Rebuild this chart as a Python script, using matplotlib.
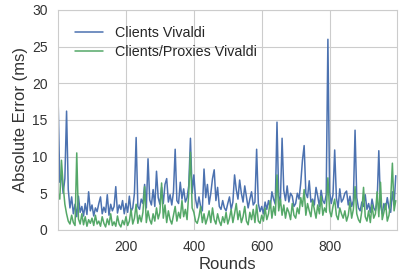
# dependencies ------------------>
import matplotlib
matplotlib.use('Agg')
import matplotlib.pyplot as plt
import seaborn as sns
import numpy as np

# program variables ------------------>
# rounds sampled every 5 rounds
rounds = np.arange(0, 1000, 5)

# absolute error (ms)
clients_vivaldi = [
    18.0, 6.5, 7.5, 5.0, 7.0, 16.2, 5.5, 3.0, 4.5, 2.2, 3.5, 1.8, 4.6, 2.4, 3.2, 1.9, 3.6, 2.1, 5.2, 2.6,
    3.4, 1.9, 3.0, 2.5, 3.6, 4.5, 2.2, 3.1, 2.4, 4.8, 2.0, 3.5, 2.6, 3.2, 5.9, 2.3, 3.4, 2.8, 4.0, 2.2,
    3.6, 2.4, 4.6, 2.5, 3.0, 5.0, 12.6, 3.2, 2.8, 4.2, 3.6, 6.2, 3.0, 9.7, 4.1, 3.4, 5.5, 3.2, 8.0, 4.4,
    3.5, 5.8, 3.6, 6.2, 7.0, 3.8, 4.8, 3.4, 5.2, 11.0, 4.0, 3.6, 6.5, 4.2, 5.6, 3.8, 4.4, 6.0, 12.5, 5.0,
    7.5, 4.2, 3.0, 4.5, 3.2, 2.6, 8.3, 4.4, 6.2, 3.5, 5.0, 7.0, 8.2, 4.0, 5.8, 3.2, 2.8, 4.0, 3.0, 2.6,
    3.6, 4.5, 2.8, 3.8, 7.5, 5.5, 4.2, 6.8, 5.0, 3.8, 6.0, 4.5, 3.0, 4.2, 5.2, 3.4, 3.8, 11.0, 3.6, 2.5,
    3.2, 2.2, 3.8, 2.8, 4.0, 3.0, 5.2, 4.2, 3.5, 14.7, 4.6, 3.8, 12.5, 5.4, 4.0, 6.0, 3.8, 5.0, 4.6, 3.2,
    3.6, 5.0, 4.2, 6.4, 9.5, 11.5, 5.0, 4.4, 6.7, 3.8, 4.2, 3.4, 5.8, 4.6, 3.2, 5.4, 4.0, 3.6, 4.8, 26.0,
    5.2, 3.6, 4.8, 10.9, 4.4, 3.0, 5.6, 3.8, 4.2, 5.0, 5.3, 3.4, 4.6, 3.2, 4.0, 13.6, 4.4, 3.0, 2.6, 3.8,
    3.2, 4.8, 2.8, 3.6, 2.4, 4.2, 3.0, 2.6, 3.8, 10.8, 3.4, 2.2, 3.6, 2.8, 4.4, 3.0, 2.4, 5.2, 3.4, 7.4,
]
proxies_vivaldi = [
    5.0, 4.2, 9.5, 6.0, 3.5, 2.2, 1.2, 0.8, 2.0, 1.0, 0.6, 10.5, 1.5, 0.8, 2.2, 0.7, 1.8, 0.5, 1.4, 0.9,
    1.6, 0.6, 2.0, 0.8, 1.2, 0.5, 1.8, 0.9, 0.4, 1.5, 0.7, 2.2, 0.6, 1.1, 0.5, 1.9, 0.8, 0.4, 1.3, 0.7,
    1.8, 0.6, 1.2, 2.8, 0.8, 1.6, 3.5, 0.9, 2.0, 1.1, 2.4, 5.9, 1.0, 2.6, 1.4, 0.8, 2.2, 1.2, 3.0, 1.5,
    2.4, 6.4, 1.6, 3.4, 1.0, 2.6, 1.4, 0.8, 2.0, 3.2, 1.2, 2.4, 1.6, 4.0, 1.8, 2.8, 1.4, 5.0, 10.6, 3.0,
    2.4, 1.2, 0.9, 1.8, 3.2, 1.0, 2.2, 0.8, 1.6, 2.6, 1.0, 3.0, 1.4, 0.8, 2.2, 1.2, 0.6, 1.8, 1.0, 2.4,
    0.8, 1.6, 2.8, 1.0, 2.2, 3.6, 1.4, 2.6, 1.0, 1.8, 3.2, 1.2, 0.7, 2.4, 1.4, 2.8, 1.0, 3.4, 1.2, 0.9,
    2.0, 1.2, 3.0, 1.4, 2.2, 4.0, 1.6, 3.2, 2.0, 7.5, 2.6, 4.2, 2.0, 3.4, 1.6, 3.0, 2.4, 1.4, 3.6, 2.0,
    1.6, 3.0, 2.2, 4.4, 3.2, 5.5, 2.0, 3.6, 2.6, 1.8, 4.0, 2.8, 1.6, 3.4, 2.2, 4.6, 2.0, 3.0, 2.4, 7.1,
    2.6, 1.8, 3.2, 4.2, 2.0, 1.4, 3.0, 2.2, 1.6, 2.6, 1.2, 2.0, 3.8, 1.6, 2.8, 5.9, 2.2, 1.4, 1.0, 2.6,
    5.8, 1.8, 1.2, 2.6, 1.0, 3.4, 1.6, 2.2, 5.2, 1.8, 6.5, 1.4, 2.4, 3.6, 1.2, 2.0, 4.2, 9.1, 2.6, 4.0,
]

x_ticks = [200, 400, 600, 800]
y_ticks = [0, 5, 10, 15, 20, 25, 30]

# program execution ------------------>
sns.set_style('whitegrid')
plt.rcParams['font.family'] = ['Liberation Sans', 'DejaVu Sans']

fig = plt.figure(figsize=(4.09, 2.76), dpi=100)
ax = fig.add_axes([0.142, 0.167, 0.829, 0.797])

ax.plot(rounds, clients_vivaldi, color='#4C72B0', linewidth=1.1, label='Clients Vivaldi')
ax.plot(rounds, proxies_vivaldi, color='#55A868', linewidth=1.1, label='Clients/Proxies Vivaldi')

ax.set_xlim(0, 999)
ax.set_ylim(0, 30)
ax.set_xticks(x_ticks)
ax.set_yticks(y_ticks)
ax.tick_params(labelsize=10, colors='#333333', pad=4)
ax.set_xlabel('Rounds', fontsize=12, color='#333333', labelpad=2)
ax.set_ylabel('Absolute Error (ms)', fontsize=12, color='#333333', labelpad=3)
for s in ax.spines.values():
    s.set_color('#cccccc')

ax.legend(loc='upper left', frameon=False, fontsize=10.3, borderaxespad=0.75,
          labelspacing=0.3)

fig.savefig('out.png', dpi=100)
